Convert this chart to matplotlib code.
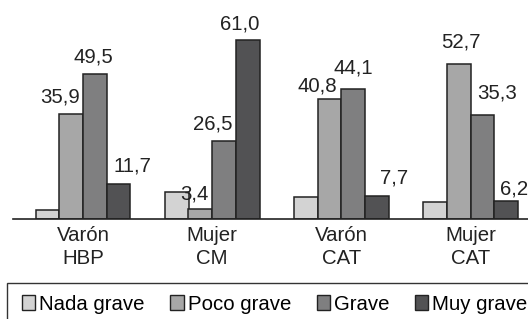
import numpy as np
import matplotlib.pyplot as plt
from matplotlib.patches import Patch, Rectangle

plt.rcParams['font.family'] = ['Liberation Sans', 'DejaVu Sans']

grupos = ['Varón\nHBP', 'Mujer\nCM', 'Varón\nCAT', 'Mujer\nCAT']
series = ['Nada grave', 'Poco grave', 'Grave', 'Muy grave']
nada_grave = [2.9, 9.1, 7.4, 5.8]
poco_grave = [35.9, 3.4, 40.8, 52.7]
grave = [49.5, 26.5, 44.1, 35.3]
muy_grave = [11.7, 61.0, 7.7, 6.2]

colores = ['#d3d3d3', '#a7a7a7', '#7f7f80', '#525254']
# desplazamiento (px) de cada etiqueta respecto al tope de la barra
desp = {
    1: [(-11, 17), (-6, 15), (-12, 13), (2, 22)],
    2: [(-1, 17), (-11, 17), (0, 21), (15, 22)],
    3: [(14, 18), (-8, 16), (17, 18), (8, 12)],
}

W, H = 528, 319
fig = plt.figure(figsize=(W / 100, H / 100), dpi=100)

base = 218.7
escala = 129.2
xmin = -(83 - 13) / escala
ax = fig.add_axes([13 / W, (H - base) / H, (W - 13) / W, base / H])
ax.set_xlim(xmin, xmin + (W - 13) / escala)
ax.set_ylim(0, base / 2.93)

x = np.arange(len(grupos))
ancho = 23.7 / escala
datos = [nada_grave, poco_grave, grave, muy_grave]
for i, valores in enumerate(datos):
    pos = x + (i - 1.5) * ancho
    ax.bar(pos, valores, ancho, color=colores[i], edgecolor='#222222',
           linewidth=1.1, zorder=2)
    if i in desp:
        for j, v in enumerate(valores):
            ax.annotate(f'{v:.1f}'.replace('.', ','), (pos[j], v),
                        xytext=desp[i][j], textcoords='offset pixels',
                        ha='center', va='center', fontsize=14.7,
                        color='#222222')

ax.set_xticks(x)
ax.set_xticklabels(grupos, fontsize=14.7, linespacing=1.3, color='#222222')
ax.tick_params(axis='x', length=0, pad=5)
ax.set_yticks([])
for lado in ['top', 'right', 'left']:
    ax.spines[lado].set_visible(False)
ax.spines['bottom'].set_color('#222222')
ax.spines['bottom'].set_linewidth(1.2)

# marco de la leyenda, cortado por el borde de la imagen
fig.patches.append(Rectangle((6.7 / W, -0.2), 1.2, (H - 282.7) / H + 0.2,
                             transform=fig.transFigure, fill=False,
                             edgecolor='#333333', linewidth=1.0))
manejadores = [Patch(facecolor=c, edgecolor='#222222', linewidth=1.0) for c in colores]
fig.legend(manejadores, series, loc='center left', ncol=4,
           bbox_to_anchor=(22 / W, (H - 304) / H), frameon=False,
           fontsize=14.7, handlelength=0.65, handleheight=0.7,
           handletextpad=0.2, columnspacing=1.25, borderpad=0, borderaxespad=0)

fig.savefig('out.png', dpi=100)
